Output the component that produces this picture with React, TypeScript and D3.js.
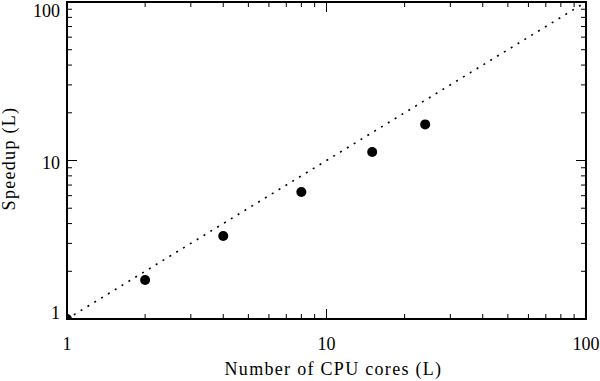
import React, { useEffect, useRef } from 'react';
import * as d3 from 'd3';

// measured speedup per core count
const cores = [1, 2, 4, 8, 15, 24];
const speedup = [1, 1.76, 3.34, 6.33, 11.3, 16.9];
const tickValues = [1, 10, 100];
const tickLabels = ['1', '10', '100'];

const W = 600;
const H = 381;
const margin = { left: 67, right: 14, top: 2, bottom: 62 };

const App = () => {
  const svgRef = useRef<SVGSVGElement>(null);

  useEffect(() => {
    const svg = d3.select(svgRef.current);
    svg.selectAll('*').remove();

    const x0 = margin.left;
    const x1 = W - margin.right;
    const y0 = H - margin.bottom;
    const y1 = margin.top;

    const x = d3.scaleLog().domain([1, 100]).range([x0, x1]);
    const y = d3.scaleLog().domain([1, 100]).range([y0, y1]);

    svg
      .append('defs')
      .append('clipPath')
      .attr('id', 'plot-clip')
      .append('rect')
      .attr('x', x0)
      .attr('y', y1)
      .attr('width', x1 - x0)
      .attr('height', y0 - y1);

    const font = "'Liberation Serif', 'Times New Roman', serif";

    // minor + major ticks (all sides, inward)
    const minor: number[] = [];
    for (const dec of [1, 10]) for (let k = 2; k <= 9; k++) minor.push(dec * k);

    const ticks = svg.append('g').attr('stroke', '#000').attr('stroke-width', 1);
    const addTicks = (vals: number[], len: number) => {
      vals.forEach((v) => {
        const px = x(v);
        const py = y(v);
        ticks.append('line').attr('x1', px).attr('x2', px).attr('y1', y0).attr('y2', y0 - len);
        ticks.append('line').attr('x1', px).attr('x2', px).attr('y1', y1).attr('y2', y1 + len);
        ticks.append('line').attr('y1', py).attr('y2', py).attr('x1', x0).attr('x2', x0 + len);
        ticks.append('line').attr('y1', py).attr('y2', py).attr('x1', x1).attr('x2', x1 - len);
      });
    };
    addTicks(minor, 5);
    addTicks(tickValues, 10);

    // ideal speedup line
    svg
      .append('line')
      .attr('x1', x(1))
      .attr('y1', y(1))
      .attr('x2', x(100))
      .attr('y2', y(100))
      .attr('stroke', '#000')
      .attr('stroke-width', 1.6)
      .attr('stroke-dasharray', '2,6');

    // points
    svg
      .append('g')
      .attr('clip-path', 'url(#plot-clip)')
      .selectAll('circle')
      .data(cores)
      .join('circle')
      .attr('cx', (d) => x(d))
      .attr('cy', (d, i) => y(speedup[i]))
      .attr('r', 5)
      .attr('fill', '#000');

    // frame
    svg
      .append('rect')
      .attr('x', x0)
      .attr('y', y1)
      .attr('width', x1 - x0)
      .attr('height', y0 - y1)
      .attr('fill', 'none')
      .attr('stroke', '#000')
      .attr('stroke-width', 2);

    // tick labels
    svg
      .append('g')
      .selectAll('text')
      .data(tickValues)
      .join('text')
      .attr('x', (d) => x(d))
      .attr('y', y0 + 31)
      .attr('text-anchor', 'middle')
      .attr('font-family', font)
      .attr('font-size', 18)
      .text((d, i) => tickLabels[i]);

    svg
      .append('g')
      .selectAll('text')
      .data(tickValues)
      .join('text')
      .attr('x', x0 - 7)
      .attr('y', (d) => Math.min(Math.max(y(d) + 2, y1 + 9), y0 - 6) + 6)
      .attr('text-anchor', 'end')
      .attr('font-family', font)
      .attr('font-size', 18)
      .text((d, i) => tickLabels[i]);

    // axis titles
    svg
      .append('text')
      .attr('x', (x0 + x1) / 2 + 7)
      .attr('y', y0 + 56)
      .attr('text-anchor', 'middle')
      .attr('font-family', font)
      .attr('font-size', 18)
      .attr('letter-spacing', 1.3)
      .text('Number of CPU cores (L)');

    svg
      .append('text')
      .attr('transform', `translate(15, ${(y0 + y1) / 2 - 2}) rotate(-90)`)
      .attr('text-anchor', 'middle')
      .attr('font-family', font)
      .attr('font-size', 18)
      .attr('letter-spacing', 1.3)
      .text('Speedup (L)');
  }, []);

  return (
    <svg
      ref={svgRef}
      width={W}
      height={H}
      style={{ display: 'block', position: 'absolute', left: 0, top: 0, background: '#fff' }}
    />
  );
};

export default App;
